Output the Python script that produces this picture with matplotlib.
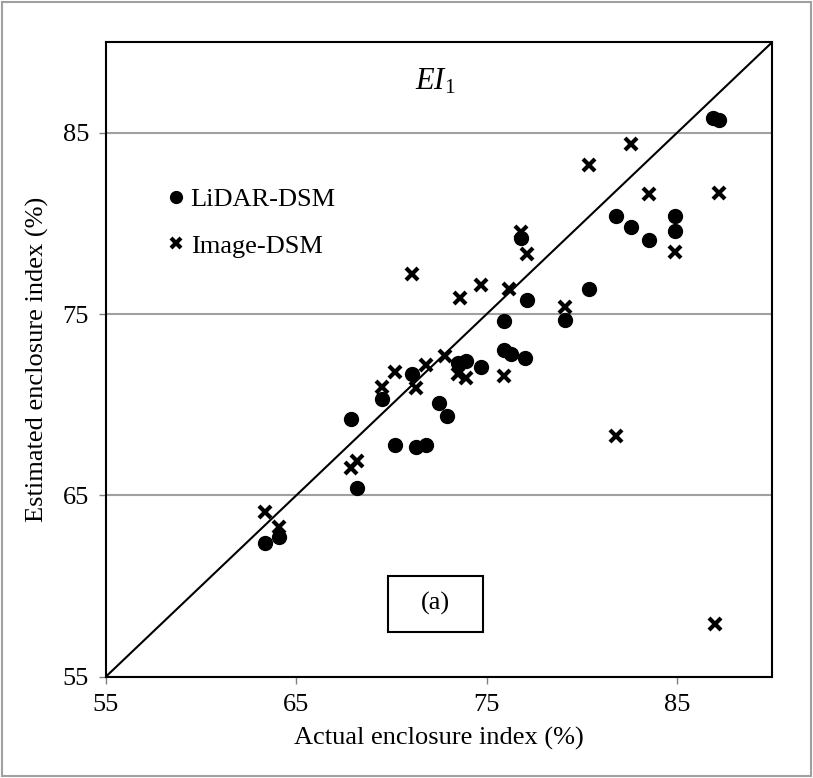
import numpy as np
import matplotlib
matplotlib.use('Agg')
import matplotlib.pyplot as plt
from matplotlib.patches import Rectangle

plt.rcParams['font.family'] = ['Liberation Serif', 'DejaVu Serif']
plt.rcParams['mathtext.fontset'] = 'custom'
plt.rcParams['mathtext.rm'] = 'Liberation Serif'
plt.rcParams['mathtext.it'] = 'Liberation Serif:italic'

# LiDAR-DSM (actual, estimated)
lidar_x = [63.35, 64.08, 67.86, 68.2, 69.5, 70.2, 71.1, 71.3, 71.8, 72.5, 72.9, 73.5, 73.9, 74.7, 75.9,
           75.9, 76.3, 77.0, 77.1, 76.8, 79.1, 80.4, 81.8, 82.6, 83.5, 84.9, 84.9, 86.9, 87.2]
lidar_y = [62.37, 62.7, 69.2, 65.4, 70.3, 67.8, 71.7, 67.7, 67.8, 70.1, 69.4, 72.3, 72.4, 72.1, 74.6,
           73.0, 72.8, 72.6, 75.8, 79.2, 74.7, 76.4, 80.4, 79.8, 79.1, 80.4, 79.6, 85.8, 85.7]

# Image-DSM (actual, estimated)
image_x = [63.35, 64.08, 67.9, 68.2, 69.5, 70.2, 71.3, 71.8, 72.8, 73.5, 73.9, 71.1, 73.6, 74.7, 75.9,
           76.2, 76.8, 77.1, 79.1, 80.4, 81.8, 82.6, 83.5, 84.9, 87.2, 86.97]
image_y = [64.1, 63.26, 66.5, 66.9, 71.0, 71.8, 70.9, 72.2, 72.7, 71.7, 71.5, 77.2, 75.9, 76.6, 71.6,
           76.4, 79.5, 78.3, 75.4, 83.2, 68.3, 84.4, 81.6, 78.4, 81.7, 57.9]

ticks = [55, 65, 75, 85]

fig = plt.figure(figsize=(8.13, 7.78), dpi=100)
ax = fig.add_axes([0.130, 0.130, 0.820, 0.816])

ax.set_xlim(55, 90)
ax.set_ylim(55, 90)
ax.set_xticks(ticks)
ax.set_yticks(ticks)
ax.yaxis.grid(True, color='#a0a0a0', linewidth=1.5)
ax.set_axisbelow(True)

ax.plot([55, 90], [55, 90], color='black', linewidth=1.5, zorder=2)

ax.plot(lidar_x, lidar_y, 'o', color='black', markersize=10, label='LiDAR-DSM', zorder=3)
ax.plot(image_x, image_y, 'x', color='black', markersize=8, markeredgewidth=3, label='Image-DSM', zorder=3)

for s in ax.spines.values():
    s.set_linewidth(1.5)
ax.tick_params(axis='both', direction='out', length=5, width=1, color='#808080',
               labelsize=19, pad=7)

ax.set_xlabel('Actual enclosure index (%)', fontsize=19, labelpad=8)
ax.set_ylabel('Estimated enclosure index (%)', fontsize=19, labelpad=10)

ax.text(72.3, 87.8, r'$EI_{\mathrm{1}}$', fontsize=22, ha='center', va='center')

ax.legend(loc='upper left', bbox_to_anchor=(0.07, 0.787), frameon=False, fontsize=19,
          handletextpad=0.05, handlelength=1.0, labelspacing=0.87, markerscale=0.85,
          borderaxespad=0)

# (a) label box
ax.add_patch(Rectangle((0.423, 0.071), 0.143, 0.088, transform=ax.transAxes,
                       facecolor='white', edgecolor='black', linewidth=1.5, zorder=4))
ax.text(0.4945, 0.115, '(a)', fontsize=19, ha='center', va='center', transform=ax.transAxes, zorder=5)

fig.patches.append(Rectangle((0.002, 0.002), 0.996, 0.996, transform=fig.transFigure,
                             fill=False, edgecolor='#a0a0a0', linewidth=1.5))

plt.savefig('out.png', dpi=100)
